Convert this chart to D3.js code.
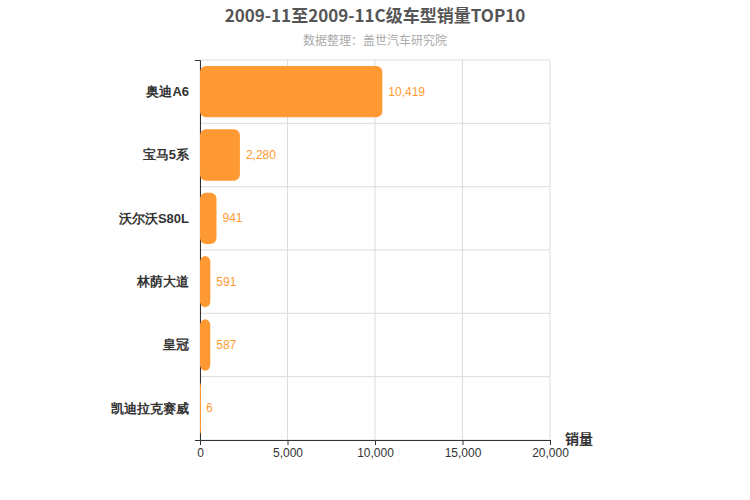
<!DOCTYPE html>
<html><head><meta charset="utf-8">
<script src="https://cdn.jsdelivr.net/npm/d3@7"></script>
<style>body{margin:0;background:#fff;font-family:"Noto Sans CJK SC",sans-serif;}</style>
</head><body><div id="chart"></div>
<script>
var categories = ['奥迪A6', '宝马5系', '沃尔沃S80L', '林荫大道', '皇冠', '凯迪拉克赛威'];
var sales = [10419, 2280, 941, 591, 587, 6];
var xTicks = [0, 5000, 10000, 15000, 20000];

var W = 750, H = 500, m = {left: 200, right: 200, top: 60, bottom: 60};
var svg = d3.select('#chart').append('svg').attr('width', W).attr('height', H);

var x = d3.scaleLinear().domain([0, 20000]).range([m.left, W - m.right]);
var y = d3.scaleBand().domain(categories).range([m.top, H - m.bottom]);

// grid
svg.append('g').selectAll('line').data(xTicks).join('line')
  .attr('x1', d => x(d)).attr('x2', d => x(d))
  .attr('y1', m.top).attr('y2', H - m.bottom)
  .attr('stroke', '#ddd');
var bounds = categories.map(c => y(c)).concat([H - m.bottom]);
svg.append('g').selectAll('line').data(bounds).join('line')
  .attr('x1', m.left).attr('x2', W - m.right)
  .attr('y1', d => d).attr('y2', d => d)
  .attr('stroke', '#ddd');

// axes
var xa = svg.append('g').attr('transform', 'translate(0,' + (H - m.bottom) + ')')
  .call(d3.axisBottom(x).tickValues(xTicks).tickFormat(d3.format(',')).tickSize(5));
xa.select('.domain').attr('stroke', '#333');
xa.selectAll('line').attr('stroke', '#333');
xa.selectAll('text').attr('fill', '#333').style('font-size', '12px').style('font-family', 'Arial, sans-serif');

var ya = svg.append('g').attr('transform', 'translate(' + m.left + ',0)')
  .call(d3.axisLeft(y).tickSize(5).tickPadding(6));
ya.select('.domain').attr('stroke', '#333');
ya.selectAll('line').remove();
ya.selectAll('text').attr('fill', '#333').style('font-size', '13px').style('font-weight', 'bold');

// bars
svg.append('g').selectAll('rect').data(sales).join('rect')
  .attr('x', x(0)).attr('y', (d, i) => y(categories[i]) + 6)
  .attr('width', d => Math.max(x(d) - x(0), 1)).attr('height', y.bandwidth() - 12)
  .attr('rx', 6).attr('fill', '#ff9933');

svg.append('g').selectAll('text').data(sales).join('text')
  .attr('x', d => x(d) + 6).attr('y', (d, i) => y(categories[i]) + y.bandwidth() / 2 + 4)
  .attr('fill', '#ff9933').style('font-size', '12px').style('font-family', 'Arial, sans-serif')
  .text(d => d3.format(',')(d));

// titles
svg.append('text').attr('x', W / 2).attr('y', 22).attr('text-anchor', 'middle')
  .attr('fill', '#555').style('font-size', '17px').style('font-weight', 'bold')
  .text('2009-11至2009-11C级车型销量TOP10');
svg.append('text').attr('x', W / 2).attr('y', 45).attr('text-anchor', 'middle')
  .attr('fill', '#aaa').style('font-size', '12px')
  .text('数据整理：盖世汽车研究院');
svg.append('text').attr('x', W - m.right + 15).attr('y', H - m.bottom + 4)
  .attr('fill', '#333').style('font-size', '14px').style('font-weight', 'bold')
  .text('销量');
</script></body></html>
